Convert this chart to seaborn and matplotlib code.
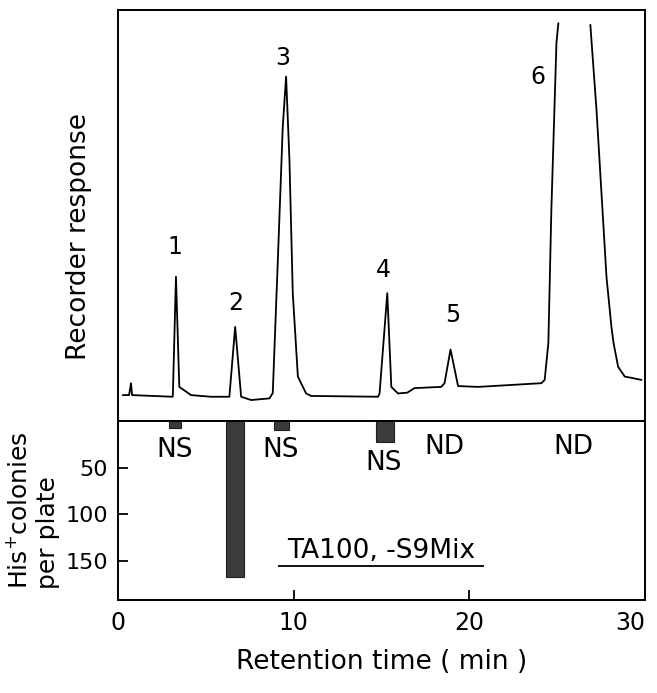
import numpy as np
import pandas as pd
import seaborn as sns
import matplotlib.pyplot as plt

# chromatogram trace (time in min, response in chart units 0-100)
trace_time = [0.27, 0.63, 0.74, 0.80, 3.12, 3.30, 3.49, 4.16, 5.30,
              6.34, 6.67, 7.01, 7.58, 8.62, 8.81, 9.10, 9.38, 9.57, 9.76, 9.95,
              10.24, 10.71, 11.0, 14.80, 14.89, 15.33, 15.56, 15.94, 16.47, 16.88,
              18.40, 18.59, 18.93, 19.36, 20.50, 24.10, 24.29, 24.50, 24.67, 24.96, 25.07,
              np.nan,
              26.89, 27.24, 27.81, 28.09, 28.21, 28.47, 28.85, 29.23, 29.80]
trace_resp = [6.3, 6.3, 9.2, 6.3, 5.9, 35.1, 8.3, 6.3, 5.9,
              5.9, 22.9, 5.9, 5.1, 5.5, 6.8, 39.2, 71.6, 83.8, 63.5, 31.1,
              10.8, 6.7, 6.1, 5.9, 6.7, 31.1, 8.3, 6.7, 6.9, 8.0,
              8.3, 9.2, 17.4, 8.5, 8.3, 9.2, 10.0, 19.0, 51.3, 92.0, 96.8,
              np.nan,
              96.4, 75.7, 35.0, 22.9, 19.0, 13.2, 10.8, 10.5, 10.0]

peak_labels = ["1", "2", "3", "4", "5", "6"]
peak_time = [3.21, 6.72, 9.40, 15.13, 19.07, 23.9]
peak_resp = [42.4, 28.6, 88.3, 36.7, 25.8, 83.8]

# His+ revertant colonies per plate for the collected fractions
frac_start = [2.91, 6.15, 8.87, 14.70]
frac_end = [3.59, 7.18, 9.74, 15.73]
colonies = [8, 167, 10, 22]

result_labels = ["NS", "NS", "NS", "ND", "ND"]
result_time = [3.2, 9.27, 15.1, 18.6, 25.9]
result_y = [31, 31, 45, 28, 28]

sns.set_style("white", {"text.color": "black", "axes.labelcolor": "black",
                        "xtick.color": "black", "ytick.color": "black",
                        "axes.edgecolor": "black"})
plt.rcParams['font.family'] = ['DejaVu Sans']

fig = plt.figure(figsize=(6.57, 6.93), dpi=100)
ax1 = fig.add_axes([0.1796, 0.3925, 0.8021, 0.593])
ax2 = fig.add_axes([0.1796, 0.1342, 0.8021, 0.2583])

# chromatogram, split at the off-scale gap of peak 6
df = pd.DataFrame({"time": trace_time, "resp": trace_resp})
brk = df["time"].isna()
seg = brk.cumsum()
for _, part in df[~brk].groupby(seg[~brk]):
    sns.lineplot(data=part, x="time", y="resp", ax=ax1, color="black",
                 linewidth=1.3, sort=False, estimator=None)
for lab, t, r in zip(peak_labels, peak_time, peak_resp):
    ax1.text(t, r, lab, ha="center", va="center", fontsize=17)
ax1.set_xlim(0, 30)
ax1.set_ylim(0, 100)
ax1.set_xticks([])
ax1.set_yticks([])
ax1.set_xlabel("")
ax1.set_ylabel("Recorder response", fontsize=19)
ax1.yaxis.set_label_coords(-0.05, 0.45)

# bioassay bars hanging down from the top of the lower panel
bars = pd.DataFrame({"start": frac_start, "end": frac_end, "col": colonies})
ax2.bar(bars["start"], bars["col"], width=bars["end"] - bars["start"], align="edge",
        color="#3b3b3b", edgecolor="#1e1e1e", linewidth=0.8)
for lab, t, y in zip(result_labels, result_time, result_y):
    ax2.text(t, y, lab, ha="center", va="center", fontsize=19)
ax2.text(15.0, 139, "TA100, -S9Mix", ha="center", va="center", fontsize=19)
ax2.hlines(155, 9.1, 20.85, color="black", linewidth=1.3)
ax2.set_xlim(0, 30)
ax2.set_ylim(192, 0)
ax2.set_yticks([50, 100, 150])
ax2.set_xticks([0, 10, 20, 30])
ax2.tick_params(direction="in", length=7, width=1.3, labelsize=16, pad=7,
                left=True, bottom=True)
ax2.tick_params(axis="x", labelsize=17, pad=8)
xlabels = ax2.get_xticklabels()
xlabels[-1].set_horizontalalignment("right")
ax2.set_xlabel("Retention time ( min )", fontsize=19, labelpad=10)
ax2.set_ylabel("His$^{+}$colonies\nper plate", fontsize=18, multialignment="left")
ax2.yaxis.set_label_coords(-0.11, 0.5)

for ax in (ax1, ax2):
    for sp in ax.spines.values():
        sp.set_linewidth(1.4)
        sp.set_color("black")

fig.savefig("out.png", dpi=100)
